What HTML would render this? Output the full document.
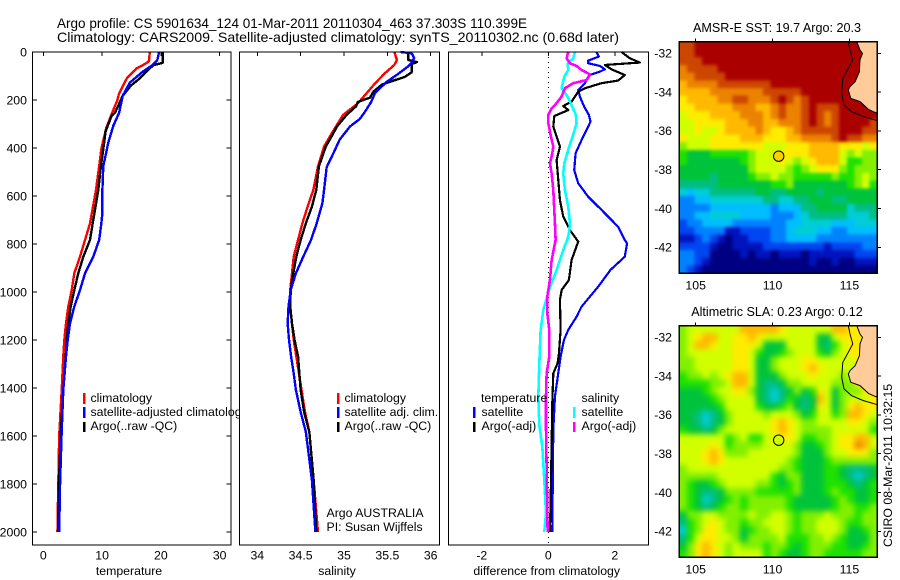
<!DOCTYPE html>
<html lang="en">
<head>
<meta charset="utf-8">
<title>Argo profile</title>
<style>
html,body{margin:0;padding:0;background:#fff;width:900px;height:580px;overflow:hidden}
svg{display:block}
text{font-family:"Liberation Sans",Arial,sans-serif;font-size:12.3px;fill:#000}
.title{font-size:14px}
.maptitle{font-size:12.6px}
.mid{text-anchor:middle}
.end{text-anchor:end}
.frame{fill:none;stroke:#000;stroke-width:1.4;shape-rendering:crispEdges}
</style>
</head>
<body>
<svg id="chart" xmlns="http://www.w3.org/2000/svg" width="900" height="580" viewBox="0 0 900 580">
  <defs>
    <filter id="soft-sst" x="-5%" y="-5%" width="110%" height="110%" color-interpolation-filters="sRGB"><feGaussianBlur stdDeviation="1.6"/></filter>
    <filter id="soft-sla" x="-5%" y="-5%" width="110%" height="110%" color-interpolation-filters="sRGB"><feGaussianBlur stdDeviation="2.8"/></filter>
    <clipPath id="clip-sst"><rect x="679.3" y="41.7" width="198" height="231.6"/></clipPath>
    <clipPath id="clip-sla"><rect x="679.3" y="325.7" width="198" height="231.6"/></clipPath>
  </defs>
  <rect x="0" y="0" width="900" height="580" fill="#fff"/>
  <text class="title" x="57" y="28" textLength="470" lengthAdjust="spacingAndGlyphs">Argo profile: CS 5901634_124 01-Mar-2011 20110304_463 37.303S 110.399E</text>
  <text class="title" x="57" y="42" textLength="562" lengthAdjust="spacingAndGlyphs">Climatology: CARS2009. Satellite-adjusted climatology: synTS_20110302.nc (0.68d later)</text>

  <g id="panel-temp">
    <rect x="32.5" y="52" width="198.5" height="493" fill="#fff"/>
    <g id="temp-marks"></g>
    <rect class="frame" x="32.5" y="52" width="198.5" height="493"/>
    <g id="temp-axes"></g>
    <text class="mid" x="129" y="575">temperature</text>
    <g>
      <rect x="83" y="393" width="2.5" height="11" fill="#f00"/>
      <rect x="83" y="407" width="2.5" height="11" fill="#00f"/>
      <rect x="83" y="422" width="2.5" height="10" fill="#000"/>
      <text x="90.5" y="402">climatology</text>
      <text x="90.5" y="416">satellite-adjusted climatology</text>
      <text x="90.5" y="430">Argo(..raw -QC)</text>
    </g>
  </g>

  <g id="panel-sal">
    <rect x="239.5" y="52" width="200" height="493" fill="#fff"/>
    <g id="sal-marks"></g>
    <rect class="frame" x="239.5" y="52" width="200" height="493"/>
    <g id="sal-axes"></g>
    <text class="mid" x="337" y="575">salinity</text>
    <g>
      <rect x="337" y="393" width="2.5" height="11" fill="#f00"/>
      <rect x="337" y="407" width="2.5" height="11" fill="#00f"/>
      <rect x="337" y="422" width="2.5" height="10" fill="#000"/>
      <text x="344.5" y="402">climatology</text>
      <text x="344.5" y="416">satellite adj. clim.</text>
      <text x="344.5" y="430">Argo(..raw -QC)</text>
    </g>
    <text x="326.5" y="517">Argo AUSTRALIA</text>
    <text x="326.5" y="531">PI: Susan Wijffels</text>
  </g>

  <g id="panel-diff">
    <rect x="448.5" y="52" width="200" height="493" fill="#fff"/>
    <line id="zero-line" x1="548.3" x2="548.3" y1="52" y2="545" stroke="#000" stroke-width="1" stroke-dasharray="1 4" shape-rendering="crispEdges"/>
    <g id="diff-marks"></g>
    <rect class="frame" x="448.5" y="52" width="200" height="493"/>
    <g id="diff-axes"></g>
    <text class="mid" x="546.7" y="575">difference from climatology</text>
    <g>
      <text x="481" y="402">temperature</text>
      <text x="581.5" y="402">salinity</text>
      <rect x="473" y="407" width="2.5" height="11" fill="#00f"/>
      <rect x="473" y="422" width="2.5" height="10" fill="#000"/>
      <rect x="573" y="407" width="2.5" height="11" fill="#0ff"/>
      <rect x="573" y="422" width="2.5" height="10" fill="#f0f"/>
      <text x="481.5" y="416">satellite</text>
      <text x="481.5" y="430">Argo(-adj)</text>
      <text x="581.5" y="416">satellite</text>
      <text x="581.5" y="430">Argo(-adj)</text>
    </g>
  </g>

  <g id="map-sst">
    <text class="mid maptitle" x="777" y="32">AMSR-E SST: 19.7 Argo: 20.3</text>
    <g clip-path="url(#clip-sst)">
      <g id="sst-cells" filter="url(#soft-sst)"></g>
      <g id="sst-geo"></g>
    </g>
    <rect class="frame" x="679.3" y="41.7" width="198" height="231.6"/>
    <g id="sst-axes"></g>
  </g>

  <g id="map-sla">
    <text class="mid maptitle" x="777" y="316">Altimetric SLA: 0.23 Argo: 0.12</text>
    <g clip-path="url(#clip-sla)">
      <g id="sla-cells" filter="url(#soft-sla)"></g>
      <g id="sla-geo"></g>
    </g>
    <rect class="frame" x="679.3" y="325.7" width="198" height="231.6"/>
    <g id="sla-axes"></g>
  </g>

  <text transform="translate(892,547) rotate(-90)">CSIRO 08-Mar-2011 10:32:15</text>
</svg>

<script>
// ---------- axis tick labels ----------
const depthTicks = [0, 200, 400, 600, 800, 1000, 1200, 1400, 1600, 1800, 2000];
const tempTicks = [0, 10, 20, 30];
const salTicks = [34, 34.5, 35, 35.5, 36];
const diffTicks = [-2, 0, 2];
const lonTicks = [105, 110, 115];
const latTicks = [-32, -34, -36, -38, -40, -42];

// ---------- temperature profiles ----------
const tempClimDepth = [0, 33, 40, 54, 68, 110, 172, 200, 260, 317, 400, 476, 575, 714, 853, 922, 992, 1061, 1131, 1200, 1269, 1408, 1600, 1800, 2000];
const tempClimValue = [18.1, 18.0, 17.9, 17.0, 15.9, 14.2, 12.9, 12.6, 11.6, 10.7, 9.9, 9.5, 8.96, 7.94, 6.24, 5.27, 4.83, 4.25, 3.86, 3.57, 3.4, 3.13, 2.7, 2.55, 2.4];
const tempSatDepth = [0, 33, 54, 80, 128, 183, 253, 308, 378, 476, 575, 672, 728, 783, 853, 922, 992, 1061, 1131, 1200, 1269, 1408, 1600, 1800, 2000];
const tempSatValue = [19.7, 19.4, 18.6, 17.0, 14.7, 13.5, 12.9, 11.9, 11.05, 10.2, 10.05, 10.05, 9.8, 9.5, 8.5, 7.1, 6.24, 5.27, 4.54, 4.15, 3.86, 3.4, 3.1, 2.85, 2.7];
const tempArgoDepth = [0, 45, 55, 80, 110, 140, 183, 253, 267, 330, 405, 476, 575, 714, 783, 853, 922, 992, 1061, 1131, 1200, 1269, 1408, 1600, 1800, 2000];
const tempArgoValue = [20.3, 20.3, 18.7, 17.6, 16.4, 14.9, 13.5, 12.2, 11.6, 10.6, 10.2, 9.8, 9.35, 8.4, 7.94, 6.8, 5.95, 5.27, 4.66, 4.25, 3.98, 3.81, 3.4, 2.95, 2.65, 2.5];

// ---------- salinity profiles ----------
const salClimDepth = [0, 33, 54, 89, 130, 172, 214, 262, 338, 394, 477, 575, 644, 714, 783, 853, 922, 992, 1061, 1131, 1200, 1269, 1339, 1408, 1500, 1583, 1783, 2000];
const salClimValue = [35.58, 35.61, 35.58, 35.47, 35.36, 35.26, 35.16, 34.99, 34.86, 34.77, 34.70, 34.646, 34.58, 34.52, 34.47, 34.42, 34.40, 34.38, 34.38, 34.40, 34.42, 34.45, 34.48, 34.51, 34.55, 34.6, 34.65, 34.70];
const salSatDepth = [0, 5, 25, 45, 60, 90, 125, 170, 210, 250, 280, 310, 365, 420, 480, 575, 631, 714, 783, 853, 922, 992, 1061, 1131, 1200, 1269, 1339, 1408, 1500, 1583, 1783, 2000];
const salSatValue = [35.65, 35.78, 35.81, 35.78, 35.74, 35.63, 35.49, 35.36, 35.31, 35.24, 35.18, 35.07, 34.95, 34.88, 34.80, 34.77, 34.75, 34.685, 34.62, 34.53, 34.445, 34.385, 34.36, 34.35, 34.366, 34.39, 34.42, 34.445, 34.5, 34.56, 34.63, 34.67];
const salArgoDepth = [0, 33, 42, 50, 60, 85, 104, 118, 135, 165, 190, 208, 226, 262, 310, 350, 394, 477, 575, 644, 714, 783, 853, 922, 992, 1061, 1131, 1200, 1269, 1408, 1500, 1583, 1783, 2000];
const salArgoValue = [35.74, 35.74, 35.84, 35.78, 35.78, 35.78, 35.70, 35.58, 35.44, 35.34, 35.30, 35.16, 35.14, 35.03, 34.92, 34.86, 34.79, 34.71, 34.68, 34.63, 34.56, 34.50, 34.45, 34.415, 34.385, 34.38, 34.40, 34.43, 34.47, 34.50, 34.54, 34.6, 34.65, 34.68];

// ---------- differences from climatology ----------
const diffTempSatDepth = [0, 19, 36, 47, 58, 72, 82, 96, 130, 158, 186, 228, 262, 290, 325, 367, 422, 492, 547, 603, 658, 728, 783, 797, 853, 908, 978, 1061, 1103, 1158, 1200, 1269, 1339, 1436, 1575, 2000];
const diffTempSatValue = [1.45, 1.52, 1.2, 1.2, 1.55, 1.7, 1.55, 1.25, 1.1, 0.9, 0.95, 1.08, 1.22, 1.27, 1.15, 1.0, 0.82, 0.78, 0.9, 1.2, 1.6, 2.1, 2.3, 2.37, 2.3, 1.87, 1.5, 1.0, 0.85, 0.6, 0.47, 0.37, 0.3, 0.2, 0.15, 0.12];
const diffTempArgoDepth = [0, 26, 44, 54, 72, 96, 119, 130, 151, 165, 186, 207, 225, 242, 267, 311, 353, 394, 450, 533, 617, 686, 742, 790, 867, 950, 992, 1033, 1158, 1256, 1297, 1339, 1464, 1800, 2000];
const diffTempArgoValue = [2.2, 2.45, 2.75, 1.7, 1.9, 2.3, 2.1, 1.6, 1.1, 0.9, 0.8, 0.7, 0.45, 0.6, 0.18, 0.15, 0.25, 0.35, 0.25, 0.3, 0.35, 0.45, 0.65, 0.9, 0.7, 0.62, 0.4, 0.35, 0.37, 0.32, 0.28, 0.15, 0.12, 0.08, 0.05];
const diffSalSatDepth = [0, 26, 47, 75, 103, 151, 186, 221, 262, 297, 353, 394, 464, 506, 575, 644, 714, 756, 783, 825, 908, 992, 1075, 1158, 1297, 1436, 1555, 1645, 1783, 1922, 2000];
const diffSalSatValue = [0.8, 0.75, 0.58, 0.6, 0.48, 0.4, 0.58, 0.7, 0.83, 0.85, 0.73, 0.63, 0.48, 0.45, 0.5, 0.6, 0.65, 0.62, 0.57, 0.45, 0.25, 0.02, -0.15, -0.23, -0.27, -0.3, -0.27, -0.18, -0.12, -0.07, -0.12];
const diffSalArgoDepth = [0, 26, 47, 58, 75, 93, 117, 130, 151, 186, 221, 235, 262, 297, 353, 394, 422, 464, 506, 575, 714, 783, 867, 950, 1019, 1089, 1158, 1269, 1339, 1436, 1555, 2000];
const diffSalArgoValue = [0.6, 0.55, 0.65, 0.85, 1.0, 1.25, 1.15, 0.75, 0.5, 0.4, 0.2, 0.1, 0, 0, 0.08, 0.15, 0.12, 0.05, 0.1, 0.15, 0.2, 0.22, 0.1, 0.05, -0.03, -0.03, 0.03, 0.03, -0.05, -0.07, -0.07, -0.02];

// ---------- coastline (lon, lat) ----------
const landLon = [115.48, 115.69, 115.85, 115.69, 115.65, 115.37, 115.04, 114.93, 115.09, 115.69, 116.24, 116.56, 116.82, 116.85, 116.85];
const landLat = [-31.4, -31.83, -32, -32.34, -32.95, -33.46, -33.72, -33.89, -34.32, -34.49, -34.89, -35.01, -35.09, -35.09, -31.4];
const shelfLon = [114.93, 115.04, 115.22, 114.93, 114.57, 114.5, 114.65, 115.15, 115.91, 116.82];
const shelfLat = [-31.4, -31.83, -32.34, -32.77, -33.29, -34.06, -34.66, -35.01, -35.26, -35.47];
const floatLon = [110.399];
const floatLat = [-37.303];

// ---------- heatmap colour levels ----------
const levelColors = ["#000082","#0014be","#0046f0","#0082ff","#00beff","#00cdd7","#00be82","#00c33c","#1ee100","#82f000","#d2ff00","#ffeb00","#ffb900","#eb8200","#cd4600","#aa0000"];
const sstLevels = [
[14,14,15,15,15,15,15,15,15,15,15,15,15,15,15,15,15,15,15,15,15,15,15,15,15,15],
[14,14,15,15,15,15,15,15,15,15,15,15,15,15,15,15,15,15,15,15,15,15,15,15,15,15],
[14,14,14,15,15,15,15,15,15,15,15,15,15,15,15,15,15,15,15,15,15,15,15,15,15,15],
[13,14,14,14,14,15,15,15,15,15,15,15,15,15,15,15,15,15,15,15,15,15,15,15,15,15],
[13,13,14,14,14,14,15,15,15,15,15,15,15,15,15,15,15,15,15,15,15,15,15,15,15,15],
[12,13,13,13,13,14,14,14,14,14,14,14,15,15,15,15,15,15,15,15,15,15,15,15,15,15],
[12,12,12,12,13,13,13,13,13,13,13,14,14,14,14,14,15,15,15,15,15,15,15,15,15,15],
[11,12,12,12,12,13,13,14,14,13,13,13,14,15,14,13,14,15,15,15,15,15,15,15,15,15],
[11,11,12,12,12,12,12,13,13,13,12,12,13,14,13,13,14,15,14,14,14,15,15,15,15,15],
[10,11,11,11,12,12,12,12,13,13,13,12,13,14,13,13,14,15,14,13,14,15,15,15,15,15],
[10,10,11,11,11,11,12,12,12,13,13,12,12,13,13,13,14,15,14,13,14,15,15,15,15,14],
[10,10,11,10,10,11,12,12,12,12,13,12,11,11,12,13,14,14,14,14,14,15,15,15,14,14],
[11,10,10,10,11,11,11,11,12,12,12,11,11,11,12,12,13,13,13,13,14,15,14,14,13,13],
[9,10,10,10,11,11,11,11,11,11,11,10,10,10,11,11,11,12,12,12,12,11,11,11,10,11],
[8,7,7,7,8,8,8,8,8,9,10,10,10,11,11,11,11,12,12,12,12,10,9,10,9,9],
[8,7,7,7,7,7,7,7,8,9,10,10,10,11,10,9,10,11,12,12,12,10,8,8,9,9],
[7,7,7,7,7,7,7,7,7,9,10,10,10,10,9,8,9,10,11,11,11,9,8,9,9,9],
[7,7,7,7,6,7,7,7,7,8,9,9,10,9,9,8,8,8,8,8,9,8,8,9,10,9],
[6,6,6,6,6,7,7,7,7,7,7,7,8,8,9,7,7,7,7,7,7,7,8,9,10,8],
[5,4,5,5,6,6,6,6,6,6,7,7,6,6,7,7,7,7,6,7,7,7,7,7,7,7],
[3,3,4,4,5,5,5,5,5,5,5,6,6,5,5,6,6,7,7,7,6,6,7,7,7,7],
[3,3,3,3,4,4,4,4,4,4,4,4,3,4,4,4,6,6,7,7,7,7,5,6,6,6],
[3,3,4,4,5,5,5,5,4,4,4,4,3,3,3,4,5,6,6,6,6,6,5,5,5,6],
[2,3,3,4,4,4,4,3,3,3,3,3,3,3,4,4,5,5,5,5,4,4,4,5,5,5],
[2,2,3,3,3,3,1,1,2,2,2,2,3,3,4,5,5,5,4,4,3,3,4,4,4,4],
[1,1,2,3,2,1,0,1,1,2,2,2,3,3,4,4,4,4,3,3,3,3,3,3,3,3],
[2,2,2,2,1,0,0,1,1,1,1,2,2,2,2,2,2,2,2,1,2,2,2,2,3,3],
[3,3,2,2,0,0,0,0,1,0,1,1,0,1,1,1,0,1,1,1,1,1,1,2,2,2],
[3,3,2,1,0,0,0,0,0,0,0,0,0,0,0,0,0,1,0,0,1,0,0,1,1,1],
[3,2,1,0,0,0,0,0,0,0,0,0,0,0,0,0,0,0,0,0,0,0,0,0,0,0]
];
const slaLevels = [
[9,10,10,10,10,10,10,10,12,12,12,12,12,11,10,10,10,10,10,10,12,12,11,11,11,11],
[9,10,11,12,12,10,10,11,11,12,11,10,10,10,10,10,10,10,7,7,10,11,11,11,11,11],
[9,10,12,12,11,10,10,11,11,11,10,7,7,7,10,10,10,10,7,6,8,10,11,11,11,11],
[9,10,10,10,10,10,10,11,11,10,8,7,7,8,9,10,10,10,8,7,9,10,11,11,11,11],
[9,9,10,10,10,10,10,11,11,10,7,7,9,10,10,10,11,11,10,10,10,10,10,11,11,11],
[9,9,10,10,10,10,10,11,11,10,7,7,9,10,10,10,11,12,11,10,10,10,10,10,11,11],
[8,9,9,10,9,10,11,12,12,10,7,7,7,9,10,10,10,11,10,10,10,9,10,11,11,11],
[8,8,8,8,9,9,10,12,12,10,7,6,6,7,9,9,10,10,10,10,9,9,9,11,11,11],
[7,7,7,8,9,10,10,11,11,9,7,6,5,6,7,9,7,8,11,10,7,9,9,9,11,11],
[7,7,7,7,8,9,10,10,10,10,7,6,5,6,8,7,6,7,12,10,7,9,10,10,10,11],
[7,7,7,7,7,8,10,10,10,10,8,7,7,8,9,7,6,7,11,10,7,9,11,12,11,11],
[7,7,6,5,6,7,9,10,10,10,10,9,10,10,10,9,7,8,10,10,8,9,12,12,11,10],
[7,7,6,5,6,7,9,10,10,10,10,10,11,12,11,10,9,9,10,10,10,10,11,11,10,9],
[8,7,7,6,7,9,10,10,10,10,10,10,11,12,11,10,9,9,9,9,10,10,10,10,10,8],
[10,10,10,10,10,10,8,9,10,8,8,10,10,11,11,10,8,8,9,9,10,11,11,12,12,10],
[10,10,10,10,11,10,8,9,9,9,9,10,10,10,10,9,7,7,8,9,10,11,11,13,12,10],
[10,10,10,11,12,11,9,9,9,10,10,10,10,10,10,9,7,7,7,9,10,10,11,11,11,9],
[10,10,10,11,12,11,10,10,10,10,10,10,10,10,9,8,7,7,7,8,9,9,9,9,9,9],
[9,10,10,10,10,10,10,10,10,10,10,10,10,9,9,8,7,7,7,8,8,7,6,6,6,7],
[9,9,9,9,9,10,10,10,10,10,10,10,8,7,9,9,7,7,7,8,8,7,6,5,6,7],
[9,8,7,7,8,9,10,10,10,10,9,9,8,7,8,9,7,7,7,8,8,8,7,6,7,8],
[9,8,7,6,6,7,9,9,9,9,8,8,8,8,8,9,7,7,7,8,9,8,8,7,7,8],
[9,8,7,5,6,7,8,9,8,9,9,9,9,9,8,7,7,7,7,7,8,9,8,7,7,8],
[9,8,7,6,7,8,9,9,8,9,9,9,9,9,8,7,7,7,7,7,8,9,9,8,8,9],
[7,9,9,10,10,9,9,9,9,10,9,9,10,10,9,8,9,9,9,10,9,9,9,8,9,9],
[6,8,9,10,11,10,9,9,8,9,9,10,10,10,9,8,9,9,10,10,10,9,8,8,9,9],
[5,8,9,11,11,10,9,9,7,8,9,9,10,10,9,8,9,9,10,10,10,9,7,7,8,9],
[6,8,10,11,11,10,10,9,7,9,9,9,9,10,8,8,8,9,9,10,9,8,7,7,7,9],
[7,9,11,12,11,10,9,10,9,9,9,8,9,9,8,7,8,9,9,9,8,8,7,7,8,9],
[8,9,11,12,11,10,9,10,10,10,10,8,9,8,7,7,8,9,9,8,8,8,8,8,9,9]
];

// ---------- axis functions ----------
const depthY = d => 52 + 0.24 * d;
const tempX = v => 43.3 + 5.88 * v;
const salX = v => 257.3 + 86.7 * (v - 34);
const diffX = v => 548.3 + 33.25 * v;
const lonX = v => 695.7 + 15.37 * (v - 105);
const latY = (v, top) => top + 11.64 + 19.4 * (-32 - v);

const NS = "http://www.w3.org/2000/svg";
function make(tag, parent) {
  const el = document.createElementNS(NS, tag);
  parent.appendChild(el);
  return el;
}
function profile(parentId, xFn, depths, values, color, width, name) {
  const el = make("polyline", document.getElementById(parentId));
  el.setAttribute("points", depths.map((d, i) => xFn(values[i]).toFixed(2) + "," + depthY(d).toFixed(2)).join(" "));
  el.setAttribute("fill", "none");
  el.setAttribute("stroke", color);
  el.setAttribute("stroke-width", width);
  el.setAttribute("stroke-linejoin", "round");
  el.setAttribute("shape-rendering", "crispEdges");
  
  
}
function tickLine(parent, x1, y1, x2, y2) {
  const el = make("line", parent);
  el.setAttribute("x1", x1);
  el.setAttribute("y1", y1);
  el.setAttribute("x2", x2);
  el.setAttribute("y2", y2);
  el.setAttribute("stroke", "#000");
  el.setAttribute("stroke-width", "1");
  el.setAttribute("shape-rendering", "crispEdges");
  
  
}
function tickText(parent, x, y, label, anchor) {
  const el = make("text", parent);
  el.setAttribute("x", x);
  el.setAttribute("y", y);
  el.setAttribute("text-anchor", anchor);
  el.textContent = label;
  
  
}

// profiles
profile("temp-marks", tempX, tempClimDepth, tempClimValue, "#f00", 2.4, "temperature-climatology-line");
profile("temp-marks", tempX, tempArgoDepth, tempArgoValue, "#000", 2.4, "temperature-argo-line");
profile("temp-marks", tempX, tempSatDepth, tempSatValue, "#00f", 2.4, "temperature-satellite-line");
profile("sal-marks", salX, salClimDepth, salClimValue, "#f00", 2.4, "salinity-climatology-line");
profile("sal-marks", salX, salArgoDepth, salArgoValue, "#000", 2.4, "salinity-argo-line");
profile("sal-marks", salX, salSatDepth, salSatValue, "#00f", 2.4, "salinity-satellite-line");
profile("diff-marks", diffX, diffTempSatDepth, diffTempSatValue, "#00f", 2.2, "difference-temperature-satellite-line");
profile("diff-marks", diffX, diffTempArgoDepth, diffTempArgoValue, "#000", 2.2, "difference-temperature-argo-line");
profile("diff-marks", diffX, diffSalSatDepth, diffSalSatValue, "#0ff", 2.6, "difference-salinity-satellite-line");
profile("diff-marks", diffX, diffSalArgoDepth, diffSalArgoValue, "#f0f", 2.6, "difference-salinity-argo-line");

// profile-panel axes
const tempAxes = document.getElementById("temp-axes");
depthTicks.forEach(d => {
  tickLine(tempAxes, 32.5, depthY(d), 37, depthY(d));
  tickLine(tempAxes, 226.5, depthY(d), 231, depthY(d));
  tickText(tempAxes, 27, depthY(d) + 4.3, String(d), "end");
});
tempTicks.forEach(v => {
  tickLine(tempAxes, tempX(v), 52, tempX(v), 56);
  tickText(tempAxes, tempX(v), 559.5, String(v), "middle");
});
const salAxes = document.getElementById("sal-axes");
salTicks.forEach(v => {
  tickLine(salAxes, salX(v), 52, salX(v), 56);
  tickText(salAxes, salX(v), 559.5, String(v), "middle");
});
const diffAxes = document.getElementById("diff-axes");
diffTicks.forEach(v => {
  tickLine(diffAxes, diffX(v), 52, diffX(v), 56);
  tickText(diffAxes, diffX(v), 559.5, String(v), "middle");
});

// maps
function drawMap(prefix, levels, top, circleFill) {
  const cells = document.getElementById(prefix + "-cells");
  const cols = levels[0].length;
  const rows = levels.length;
  const w = 198 / cols;
  const h = 231.6 / rows;
  const pad = 10; // outer cells run past the clip so the soft edge stays hidden
  levels.forEach((row, j) => {
    row.forEach((level, i) => {
      const c = make("rect", cells);
      const x0 = 679.3 + i * w - (i === 0 ? pad : 0);
      const y0 = top + j * h - (j === 0 ? pad : 0);
      const x1 = 679.3 + (i + 1) * w + (i === cols - 1 ? pad : 0.4);
      const y1 = top + (j + 1) * h + (j === rows - 1 ? pad : 0.4);
      c.setAttribute("x", x0.toFixed(2));
      c.setAttribute("y", y0.toFixed(2));
      c.setAttribute("width", (x1 - x0).toFixed(2));
      c.setAttribute("height", (y1 - y0).toFixed(2));
      c.setAttribute("fill", levelColors[level]);
      c.setAttribute("shape-rendering", "crispEdges");
      
      
    });
  });
  const geo = document.getElementById(prefix + "-geo");
  const land = make("polygon", geo);
  land.setAttribute("points", landLon.map((v, i) => lonX(v).toFixed(1) + "," + latY(landLat[i], top).toFixed(1)).join(" "));
  land.setAttribute("fill", "#ffcc99");
  land.setAttribute("stroke", "#000");
  land.setAttribute("stroke-width", "1");
  
  
  const shelf = make("polyline", geo);
  shelf.setAttribute("points", shelfLon.map((v, i) => lonX(v).toFixed(1) + "," + latY(shelfLat[i], top).toFixed(1)).join(" "));
  shelf.setAttribute("fill", "none");
  shelf.setAttribute("stroke", "#000");
  shelf.setAttribute("stroke-width", "1");
  
  
  const dot = make("circle", geo);
  dot.setAttribute("cx", lonX(floatLon[0]).toFixed(1));
  dot.setAttribute("cy", latY(floatLat[0], top).toFixed(1));
  dot.setAttribute("r", "5.2");
  dot.setAttribute("fill", circleFill);
  dot.setAttribute("stroke", "#000");
  dot.setAttribute("stroke-width", "1");
  
  

  const axes = document.getElementById(prefix + "-axes");
  lonTicks.forEach(v => {
    tickLine(axes, lonX(v), top - 3, lonX(v), top);
    tickText(axes, lonX(v), top + 247.6, String(v), "middle");
  });
  latTicks.forEach(v => {
    tickLine(axes, 877.3, latY(v, top), 881, latY(v, top));
    tickText(axes, 672, latY(v, top) + 4.3, String(v), "end");
  });
}
drawMap("sst", sstLevels, 41.7, "#ffd000");
drawMap("sla", slaLevels, 325.7, "#d2ff00");
</script>
</body>
</html>
